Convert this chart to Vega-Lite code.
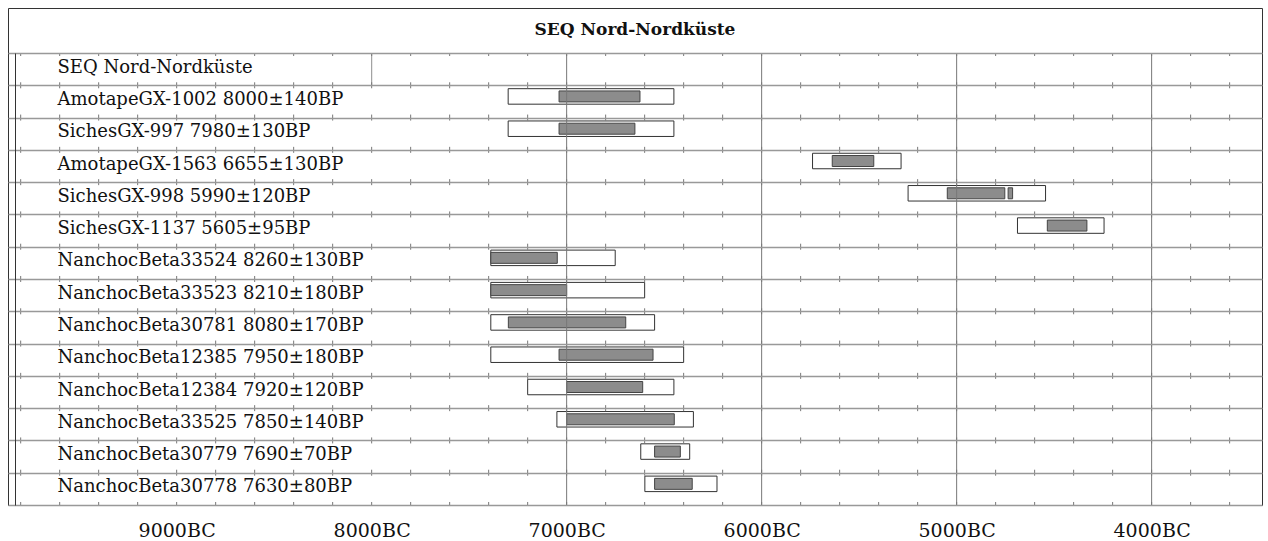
{
  "$schema": "https://vega.github.io/schema/vega-lite/v6.json",
  "padding": {"left": 7, "top": 7, "right": 7, "bottom": 0},
  "background": "white",
  "spacing": 0,
  "bounds": "flush",
  "config": {
    "view": {"stroke": "#333", "strokeWidth": 1},
    "font": "DejaVu Serif",
    "concat": {"spacing": 0}
  },
  "datasets": {
    "boxes": [
      {"label": "AmotapeGX-1002 8000±140BP", "kind": "outer", "from": 7300, "to": 6450},
      {"label": "AmotapeGX-1002 8000±140BP", "kind": "inner", "from": 7039, "to": 6624},
      {"label": "SichesGX-997 7980±130BP", "kind": "outer", "from": 7300, "to": 6450},
      {"label": "SichesGX-997 7980±130BP", "kind": "inner", "from": 7039, "to": 6650},
      {"label": "AmotapeGX-1563 6655±130BP", "kind": "outer", "from": 5739, "to": 5285},
      {"label": "AmotapeGX-1563 6655±130BP", "kind": "inner", "from": 5638, "to": 5425},
      {"label": "SichesGX-998 5990±120BP", "kind": "outer", "from": 5249, "to": 4544},
      {"label": "SichesGX-998 5990±120BP", "kind": "inner", "from": 5048, "to": 4753},
      {"label": "SichesGX-998 5990±120BP", "kind": "inner", "from": 4736, "to": 4713},
      {"label": "SichesGX-1137 5605±95BP", "kind": "outer", "from": 4688, "to": 4244},
      {"label": "SichesGX-1137 5605±95BP", "kind": "inner", "from": 4535, "to": 4332},
      {"label": "NanchocBeta33524 8260±130BP", "kind": "outer", "from": 7389, "to": 6751},
      {"label": "NanchocBeta33524 8260±130BP", "kind": "inner", "from": 7389, "to": 7048},
      {"label": "NanchocBeta33523 8210±180BP", "kind": "outer", "from": 7389, "to": 6600},
      {"label": "NanchocBeta33523 8210±180BP", "kind": "inner", "from": 7389, "to": 7000},
      {"label": "NanchocBeta30781 8080±170BP", "kind": "outer", "from": 7389, "to": 6549},
      {"label": "NanchocBeta30781 8080±170BP", "kind": "inner", "from": 7299, "to": 6697},
      {"label": "NanchocBeta12385 7950±180BP", "kind": "outer", "from": 7389, "to": 6400},
      {"label": "NanchocBeta12385 7950±180BP", "kind": "inner", "from": 7039, "to": 6557},
      {"label": "NanchocBeta12384 7920±120BP", "kind": "outer", "from": 7200, "to": 6450},
      {"label": "NanchocBeta12384 7920±120BP", "kind": "inner", "from": 7000, "to": 6610},
      {"label": "NanchocBeta33525 7850±140BP", "kind": "outer", "from": 7050, "to": 6350},
      {"label": "NanchocBeta33525 7850±140BP", "kind": "inner", "from": 7000, "to": 6448},
      {"label": "NanchocBeta30779 7690±70BP", "kind": "outer", "from": 6620, "to": 6369},
      {"label": "NanchocBeta30779 7690±70BP", "kind": "inner", "from": 6549, "to": 6417},
      {"label": "NanchocBeta30778 7630±80BP", "kind": "outer", "from": 6599, "to": 6229},
      {"label": "NanchocBeta30778 7630±80BP", "kind": "inner", "from": 6549, "to": 6356}
    ],
    "grid": [{"g": 7000}, {"g": 6000}, {"g": 5000}, {"g": 4000}],
    "partialGrid": [{"g": 8000, "label": "SEQ Nord-Nordküste"}],
    "minor": [{"m": 9800}, {"m": 9600}, {"m": 9400}, {"m": 9200}, {"m": 9000}, {"m": 8800}, {"m": 8600}, {"m": 8400}, {"m": 8200}, {"m": 8000}, {"m": 7800}, {"m": 7600}, {"m": 7400}, {"m": 7200}, {"m": 7000}, {"m": 6800}, {"m": 6600}, {"m": 6400}, {"m": 6200}, {"m": 6000}, {"m": 5800}, {"m": 5600}, {"m": 5400}, {"m": 5200}, {"m": 5000}, {"m": 4800}, {"m": 4600}, {"m": 4400}, {"m": 4200}, {"m": 4000}, {"m": 3800}, {"m": 3600}]
  },
  "vconcat": [
    {
      "width": 1254,
      "height": 45,
      "data": {"values": [{"t": "SEQ Nord-Nordküste"}]},
      "mark": {"type": "text", "font": "DejaVu Serif", "fontWeight": "bold", "fontSize": 17, "baseline": "alphabetic", "dy": 4, "align": "center", "color": "#111"},
      "encoding": {
        "y": {"field": "t", "type": "nominal", "axis": null},
        "text": {"field": "t"}
      }
    },
    {
      "width": 1254,
      "height": 452,
      "layer": [
        {
          "data": {"name": "boxes"},
          "transform": [{"filter": "datum.kind == 'outer'"}],
          "mark": {"type": "bar", "fill": "white", "stroke": "#333", "strokeWidth": 1, "size": 15.5, "yOffset": -5},
          "encoding": {
            "x": {"field": "from", "type": "quantitative", "scale": {"domain": [3434, 9865], "reverse": true, "nice": false, "zero": false},
              "axis": {"values": [9000, 8000, 7000, 6000, 5000, 4000], "labelExpr": "datum.value + 'BC'", "grid": false, "ticks": false, "domain": false, "title": null, "labelFont": "DejaVu Serif", "labelFontSize": 19, "labelColor": "#111", "labelPadding": 25, "labelBaseline": "middle"}},
            "x2": {"field": "to"},
            "y": {"field": "label", "type": "nominal",
              "scale": {"domain": ["SEQ Nord-Nordküste", "AmotapeGX-1002 8000±140BP", "SichesGX-997 7980±130BP", "AmotapeGX-1563 6655±130BP", "SichesGX-998 5990±120BP", "SichesGX-1137 5605±95BP", "NanchocBeta33524 8260±130BP", "NanchocBeta33523 8210±180BP", "NanchocBeta30781 8080±170BP", "NanchocBeta12385 7950±180BP", "NanchocBeta12384 7920±120BP", "NanchocBeta33525 7850±140BP", "NanchocBeta30779 7690±70BP", "NanchocBeta30778 7630±80BP"], "paddingInner": 0, "paddingOuter": 0},
              "axis": {"title": null, "offset": -7, "labels": true, "labelAlign": "left", "labelPadding": -42, "labelBaseline": "alphabetic", "labelOffset": 3, "labelFont": "DejaVu Serif", "labelFontSize": 18, "labelColor": "#111", "labelLimit": 0, "ticks": false, "domain": true, "domainColor": "#333", "domainWidth": 1, "grid": true, "tickBand": "extent", "gridColor": "#999", "gridWidth": 1.5, "zindex": 1}}
          }
        },
        {
          "data": {"name": "boxes"},
          "transform": [{"filter": "datum.kind == 'inner'"}],
          "mark": {"type": "bar", "fill": "#8c8c8c", "stroke": "#444", "strokeWidth": 1, "size": 11, "yOffset": -5},
          "encoding": {
            "x": {"field": "from", "type": "quantitative"},
            "x2": {"field": "to"},
            "y": {"field": "label", "type": "nominal"}
          }
        },
        {
          "data": {"name": "grid"},
          "mark": {"type": "rule", "color": "#777", "strokeWidth": 1},
          "encoding": {
            "x": {"field": "g", "type": "quantitative"}
          }
        },
        {
          "data": {"name": "partialGrid"},
          "mark": {"type": "rect", "fill": "#777", "stroke": "#777", "strokeWidth": 0.5},
          "encoding": {
            "x": {"field": "g", "type": "quantitative"},
            "x2": {"field": "g"},
            "y": {"field": "label", "type": "nominal"}
          }
        },
        {
          "data": {"name": "minor"},
          "mark": {"type": "rule", "color": "#777", "strokeWidth": 1, "strokeDash": [6, 26.2857], "strokeDashOffset": 3},
          "encoding": {
            "x": {"field": "m", "type": "quantitative"}
          }
        }
      ]
    }
  ]
}
